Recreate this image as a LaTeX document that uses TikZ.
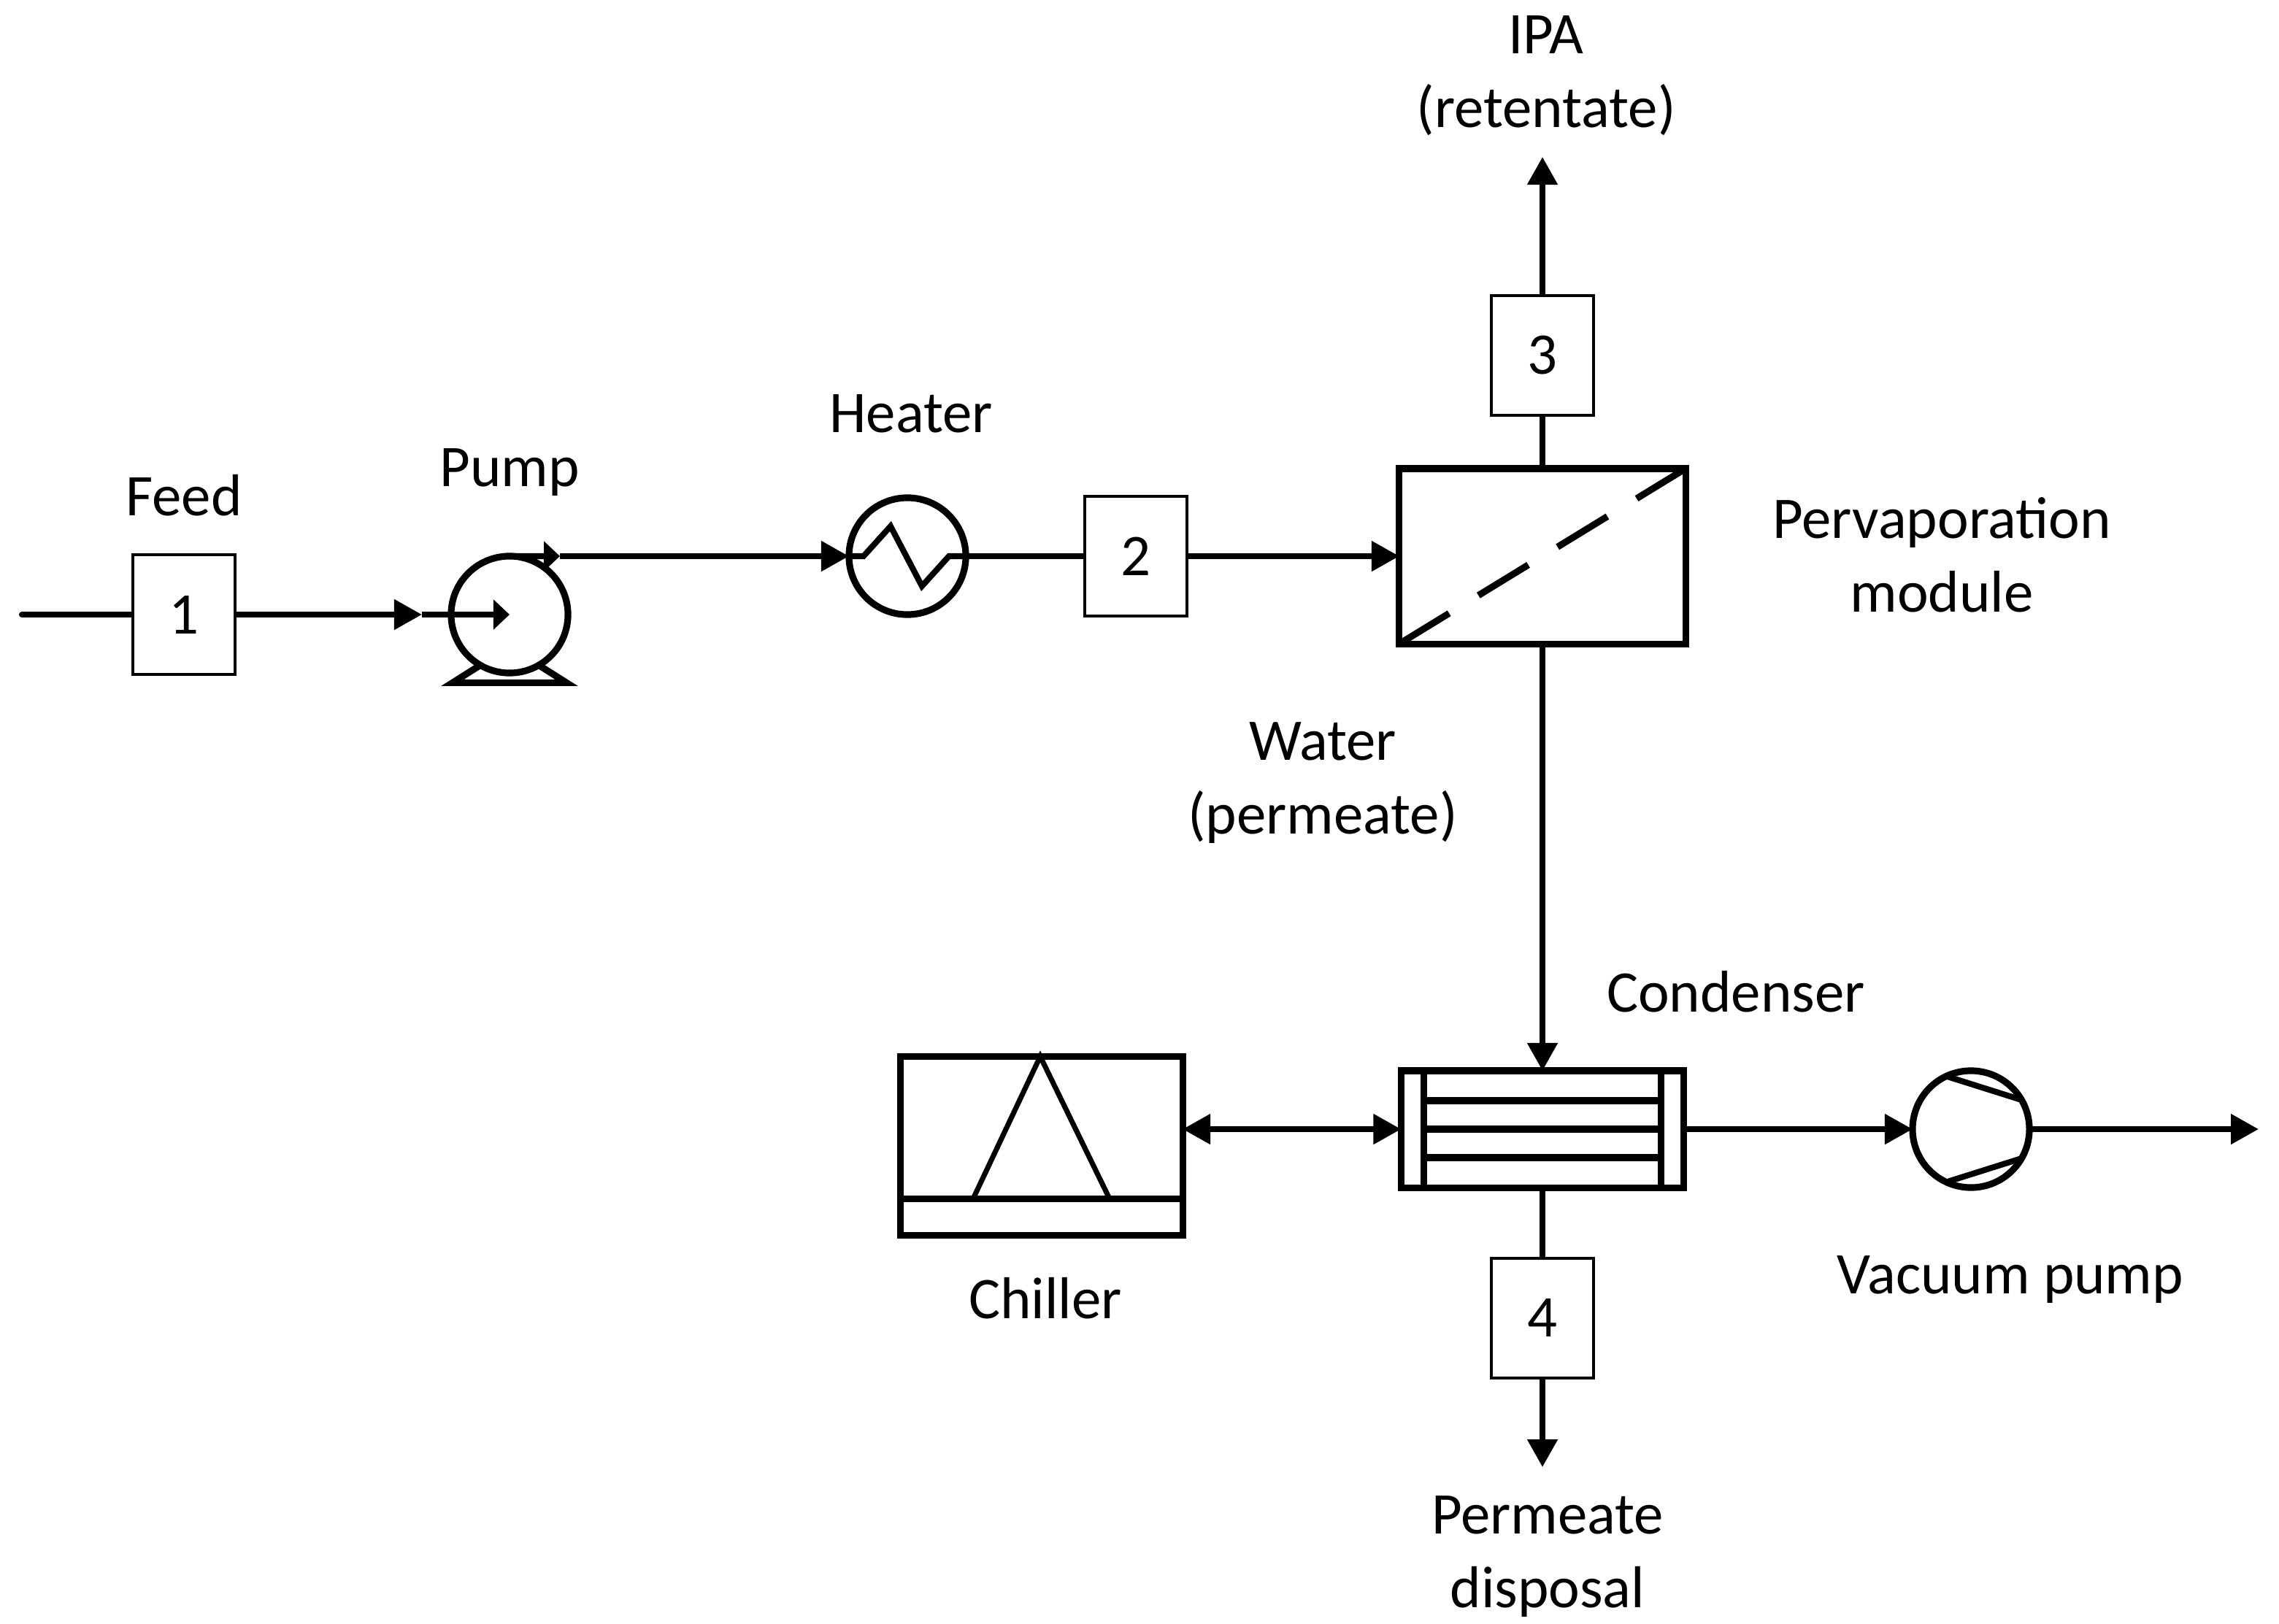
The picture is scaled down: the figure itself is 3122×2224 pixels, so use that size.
\documentclass[tikz,border=0pt]{standalone}
\usepackage{fontspec}
\setmainfont{Carlito}
\usetikzlibrary{arrows.meta}
\tikzset{
  pipe/.style={line width=2.3pt},
  flow/.style={line width=2.3pt, -{Triangle[length=0.38cm,width=0.4cm]}},
  inflow/.style={line width=2.3pt, -{Triangle[length=0.22cm,width=0.4cm]}},
  unitbox/.style={draw, line width=2.6pt, inner sep=0pt, outer sep=0pt},
  pumpc/.style={draw, circle, line width=2.6pt, minimum size=1.6cm, inner sep=0pt, outer sep=0pt},
  streambox/.style={draw, line width=1pt, minimum width=1.4cm, minimum height=1.64cm, inner sep=0pt, fill=white},
  lbl/.style={anchor=base, align=center}
}
\begin{document}
\begin{tikzpicture}[x=0.01cm, y=-0.01cm, font=\fontsize{23}{28.45}\selectfont]
    \useasboundingbox (0,0) rectangle (3122,2224);

    % equipment
    \node[pumpc] (pump) at (698,842) {};
    \node[pumpc] (heater) at (1243,762) {};
    \node[unitbox, minimum width=3.92cm, minimum height=2.4cm] (mod) at (2113,762) {};
    \node[unitbox, minimum width=3.87cm, minimum height=1.6cm] (cond) at (2113,1547) {};
    \node[unitbox, minimum width=3.86cm, minimum height=2.45cm] (chill) at (1427,1570) {};
    \node[pumpc] (vac) at (2700,1547) {};

    % stream numbers
    \node[streambox] (s1) at (252,842) {1};
    \node[streambox] (s2) at (1556,762) {2};
    \node[streambox] (s3) at (2113,487) {3};
    \node[streambox] (s4) at (2113,1806) {4};

    \coordinate (feedin) at (30,842);
    \coordinate (pumpin) at (578,842);
    \coordinate (pumpout) at (767,762);
    \coordinate (ret) at (2113,215);
    \coordinate (vacout) at (3094,1547);
    \coordinate (disp) at (2113,2010);

    % pump base and heater coil
    \draw[line width=2.6pt, line join=miter] (pump.-120) -- ++(-38,24) -- ++(156,0) -- (pump.-60);
    \draw[line width=2.3pt] (heater.west) -- ++(20,0) -- ++(37,-41) -- ++(43,82) -- ++(37,-41) -- (heater.east);

    % membrane
    \draw[line width=2.6pt, dash pattern=on 0.8cm off 0.47cm] (mod.south west) -- (mod.north east);

    % condenser tubes
    \draw[line width=2.6pt] ([xshift=0.31cm]cond.south west) -- ([xshift=0.31cm]cond.north west);
    \draw[line width=2.6pt] ([xshift=-0.31cm]cond.south east) -- ([xshift=-0.31cm]cond.north east);
    \foreach \dy in {-0.39,0,0.39} {
        \draw[line width=2.6pt] ([xshift=0.31cm,yshift=\dy cm]cond.west) -- ([xshift=-0.31cm,yshift=\dy cm]cond.east);
    }

    % chiller
    \draw[line width=2.6pt] ([yshift=0.5cm]chill.south west) -- ([yshift=0.5cm]chill.south east);
    \draw[line width=2pt, line join=miter] ([xshift=-0.94cm,yshift=0.5cm]chill.south) -- ([xshift=-0.02cm]chill.north) -- ([xshift=0.93cm,yshift=0.5cm]chill.south);

    % vacuum pump
    \draw[line width=2.3pt] (vac.115) -- (vac.30);
    \draw[line width=2.3pt] (vac.-115) -- (vac.-30);

    % streams
    \draw[pipe, line cap=round] (feedin) -- (s1);
    \draw[flow] (s1) -- (pumpin);
    \draw[inflow] (pumpin) -- (pump.center);
    \draw[inflow] (pump.north) -- (pumpout);
    \draw[flow] (pumpout) -- (heater.west);
    \draw[pipe] (heater.east) -- (s2);
    \draw[flow] (s2) -- (mod.west);
    \draw[pipe] (mod.north) -- (s3.south);
    \draw[flow] (s3.north) -- (ret);
    \draw[flow] (mod.south) -- (cond.north);
    \draw[line width=2.3pt, {Triangle[length=0.38cm,width=0.4cm]}-{Triangle[length=0.38cm,width=0.4cm]}] (chill.east |- cond.west) -- (cond.west);
    \draw[flow] (cond.east) -- (vac.west);
    \draw[flow] (vac.east) -- (vacout);
    \draw[pipe] (cond.south) -- (s4.north);
    \draw[flow] (s4.south) -- (disp);

    % labels
    \node[lbl] (feedlbl) at (252,706) {Feed};
    \node[lbl] (pumplbl) at (698,666) {Pump};
    \node[lbl] (heaterlbl) at (1248,592) {Heater};
    \node[lbl] (retlbl) at (2118,174) {IPA\\(retentate)};
    \node[lbl] (modlbl) at (2660,838) {Pervaporation\\module};
    \node[lbl] (permlbl) at (1812,1142) {Water\\(permeate)};
    \node[lbl] (condlbl) at (2378,1386) {Condenser};
    \node[lbl] (chilllbl) at (1432,1806) {Chiller};
    \node[lbl] (vaclbl) at (2754,1772) {Vacuum pump};
    \node[lbl] (displbl) at (2120,2202) {Permeate\\disposal};
\end{tikzpicture}
\end{document}
